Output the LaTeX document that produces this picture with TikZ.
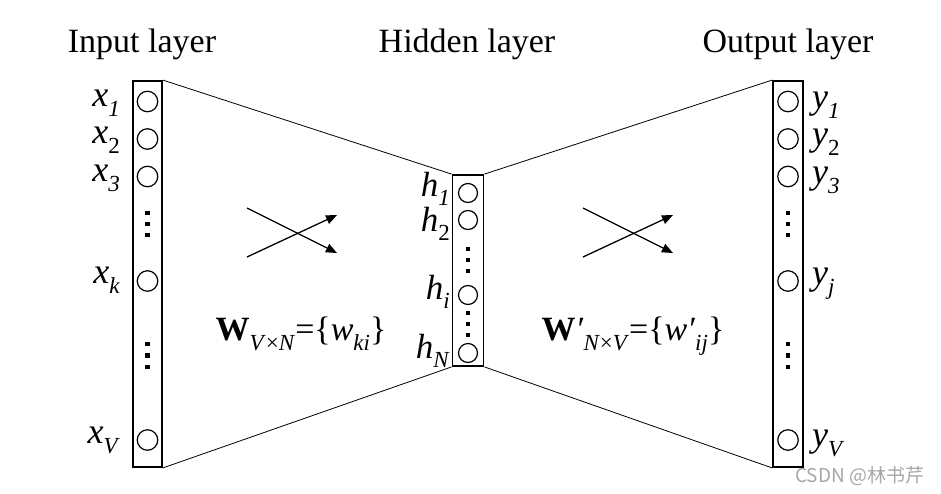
\documentclass[tikz,border=0pt]{standalone}
\usepackage{fontspec}
\setmainfont{Liberation Serif}
\newfontfamily\cjkfont{Noto Sans CJK SC}
\usetikzlibrary{arrows.meta}
\newcommand\subsz{\fontsize{23}{23}\selectfont}
\newcommand\lbl[2]{\textit{#1}\raisebox{-0.28em}{\subsz #2}}
\newcommand\hlbl[2]{\textit{#1}\raisebox{-0.25em}{\subsz #2}}
\tikzset{
  layerbox/.style={draw, line width=1.8pt, rectangle, inner sep=0pt},
  neuron/.style={draw, line width=1.2pt, circle, inner sep=0pt, minimum size=20.5pt},
  hneuron/.style={draw, line width=1.2pt, circle, inner sep=0pt, minimum size=19pt},
  title/.style={font=\fontsize{34}{34}\selectfont, anchor=base, inner sep=0pt},
  labl/.style={font=\fontsize{36}{36}\selectfont, inner sep=0pt},
  hlabl/.style={font=\fontsize{35}{35}\selectfont, inner sep=0pt, anchor=east},
  wlabel/.style={font=\fontsize{34}{34}\selectfont, anchor=base, inner sep=0pt},
  conn/.style={line width=0.8pt},
  cross/.style={line width=1.3pt, -{Triangle[length=11pt,width=9pt]}}
}
\newcommand\vdotsq[2]{%
  \foreach \yy in {#2} {\fill (#1-2.2,\yy-2.2) rectangle (#1+2.2,\yy+2.2);}}
\begin{document}
\begin{tikzpicture}[x=1pt,y=-1pt]
\useasboundingbox (0,0) rectangle (941,493);
% titles
\node[title] (tin) at (142,52) {Input layer};
\node[title] (thid) at (467,52) {Hidden layer};
\node[title] (tout) at (788,52) {Output layer};
% boxes
\node[layerbox, minimum width=29pt, minimum height=386pt] (inbox) at (147.5,274) {};
\node[layerbox, minimum width=31pt, minimum height=191pt] (hidbox) at (468,270.5) {};
\node[layerbox, minimum width=30pt, minimum height=386pt] (outbox) at (788,274) {};
% connectors
\draw[conn] (inbox.north east) -- (hidbox.north west);
\draw[conn] (inbox.south east) -- (hidbox.south west);
\draw[conn] (hidbox.north east) -- (outbox.north west);
\draw[conn] (hidbox.south east) -- (outbox.south west);
% input neurons
\node[neuron] (i1) at (147.5,101.5) {};
\node[neuron] (i2) at (147.5,139) {};
\node[neuron] (i3) at (147.5,176.5) {};
\node[neuron] (ik) at (147.5,281) {};
\node[neuron] (iV) at (147.5,440) {};
\vdotsq{147.5}{213,224,235}
\vdotsq{147.5}{344,355.5,367}
% hidden neurons
\node[hneuron] (h1) at (468,193) {};
\node[hneuron] (h2) at (468,220) {};
\node[hneuron] (hi) at (468,295) {};
\node[hneuron] (hN) at (468,353) {};
\vdotsq{468}{249,260,271}
\vdotsq{468}{313,324,335}
% output neurons
\node[neuron] (o1) at (788,101.5) {};
\node[neuron] (o2) at (788,139) {};
\node[neuron] (o3) at (788,176.5) {};
\node[neuron] (oj) at (788,281) {};
\node[neuron] (oV) at (788,440) {};
\vdotsq{788}{213,224,235}
\vdotsq{788}{344,355.5,367}
% input labels
\node[labl, anchor=east] (lx1) at (120,103) {\lbl{x}{\textit{1}}};
\node[labl, anchor=east] (lx2) at (120,140) {\lbl{x}{2}};
\node[labl, anchor=east] (lx3) at (120,178) {\lbl{x}{\textit{3}}};
\node[labl, anchor=east] (lxk) at (120,280) {\lbl{x}{\textit{k}}};
\node[labl, anchor=east] (lxV) at (120,440) {\lbl{x}{\textit{V}}};
% hidden labels
\node[hlabl] (lh1) at (450,189) {\hlbl{h}{\textit{1}}};
\node[hlabl] (lh2) at (450,223.5) {\hlbl{h}{2}};
\node[hlabl] (lhi) at (450,292) {\hlbl{h}{\textit{i}}};
\node[hlabl] (lhN) at (450,351) {\hlbl{h}{\textit{N}}};
% output labels
\node[labl, anchor=west] (ly1) at (812,105) {\lbl{y}{\textit{1}}};
\node[labl, anchor=west] (ly2) at (812,142) {\lbl{y}{2}};
\node[labl, anchor=west] (ly3) at (812,180) {\lbl{y}{\textit{3}}};
\node[labl, anchor=west] (lyj) at (812,284) {\lbl{y}{\textit{j}}};
\node[labl, anchor=west] (lyV) at (812,443) {\lbl{y}{\textit{V}}};
% crossing arrows
\coordinate (a1s) at (247,208); \coordinate (a1e) at (337,253);
\coordinate (a2s) at (247,257); \coordinate (a2e) at (337,215);
\coordinate (b1s) at (583,208); \coordinate (b1e) at (673,253);
\coordinate (b2s) at (583,257); \coordinate (b2e) at (673,215);
\draw[cross] (a1s) -- (a1e);
\draw[cross] (a2s) -- (a2e);
\draw[cross] (b1s) -- (b1e);
\draw[cross] (b2s) -- (b2e);
% weight labels
\node[wlabel] (wl) at (301,340) {\textbf{W}\raisebox{-0.3em}{\subsz\textit{V}×\textit{N}}=\{\textit{w}\raisebox{-0.3em}{\subsz\textit{ki}}\}};
\node[wlabel] (wr) at (633,340) {\textbf{W}\textit{′}\raisebox{-0.3em}{\subsz\textit{N}×\textit{V}}=\{\textit{w′}\raisebox{-0.3em}{\subsz\textit{ij}}\}};
% watermark
\node[font=\cjkfont\fontsize{19}{19}\selectfont, text=black!35, anchor=base west, inner sep=0pt] (wm) at (795,482) {CSDN @林书芹};
\end{tikzpicture}
\end{document}
